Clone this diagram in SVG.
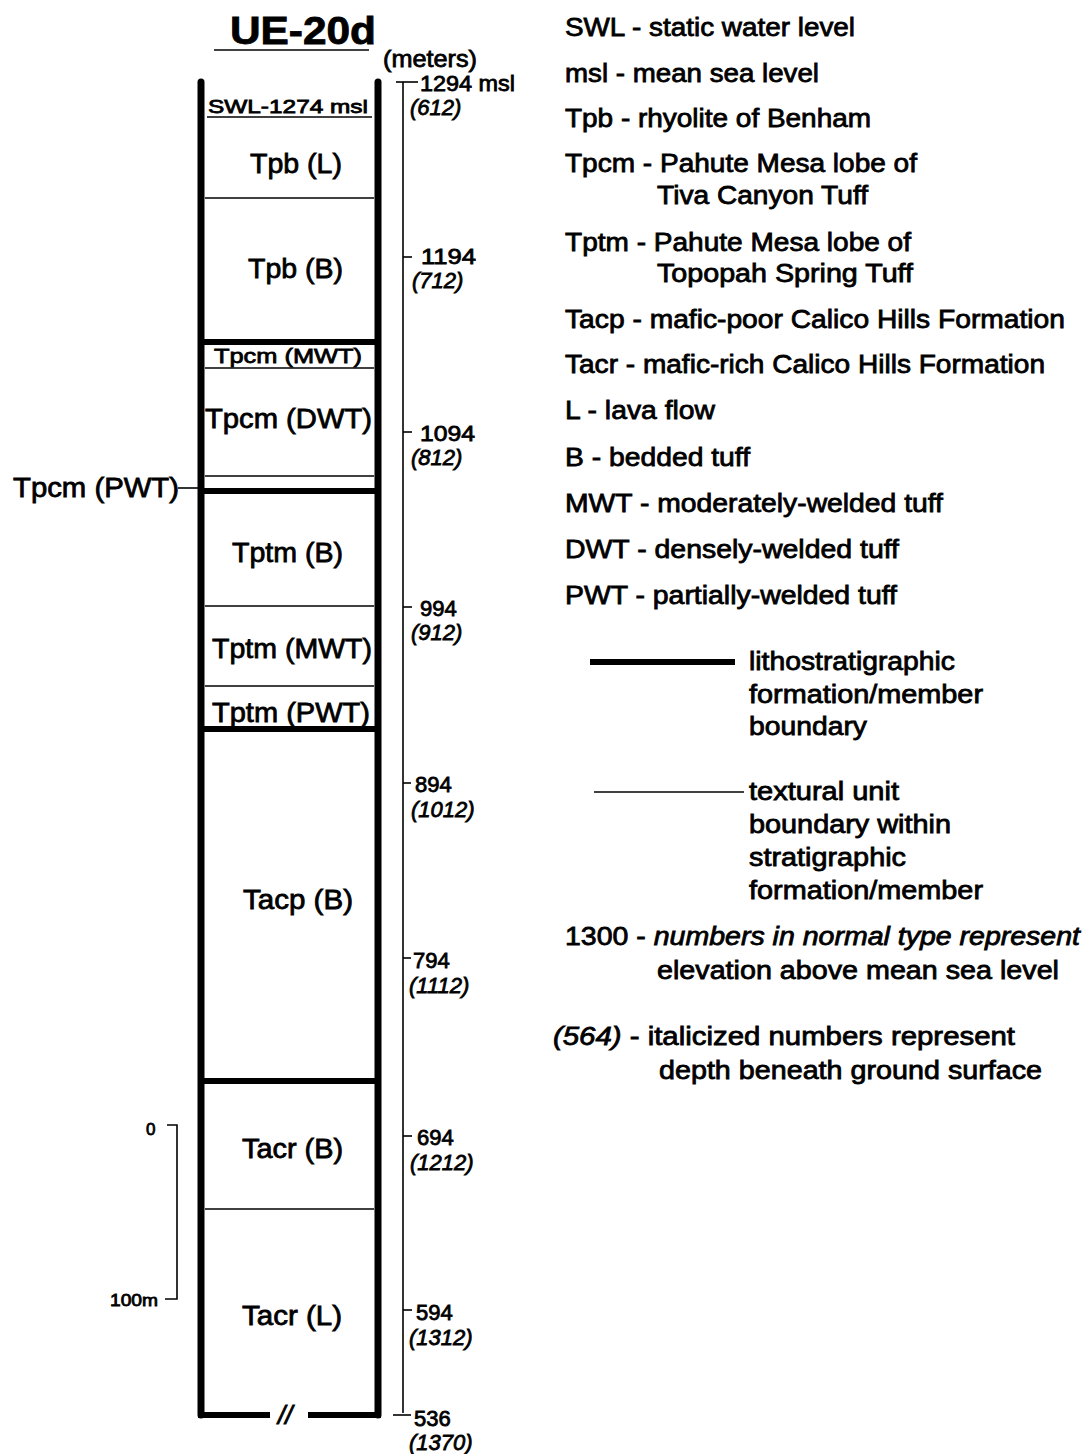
<svg xmlns="http://www.w3.org/2000/svg" width="1085" height="1454" viewBox="0 0 1085 1454">
<style>
text{font-family:"Liberation Sans",Arial,sans-serif;fill:#000;stroke:#000;stroke-width:0.8}
.lg{font-size:26px}
.lb{font-size:28px}
.sc{font-size:22px}
.it{font-style:italic}
.thick{stroke:#000;stroke-width:6;fill:none}
.wall{stroke:#000;stroke-width:7;fill:none;stroke-linecap:round}
.thin{stroke:#000;stroke-width:1.6;fill:none}
.ax{stroke:#000;stroke-width:1.6;fill:none}
</style>
<rect width="1085" height="1454" fill="#fff"/>

<g id="title">
<text x="230" y="44" font-size="38" font-weight="bold" stroke-width="0.3" textLength="146" lengthAdjust="spacingAndGlyphs">UE-20d</text>
<line x1="214" y1="50" x2="369" y2="50" class="thin"/>
</g>

<g id="column">
<line x1="201" y1="82" x2="201" y2="1415" class="wall"/>
<line x1="378" y1="82" x2="378" y2="1415" class="wall"/>
<line x1="198" y1="1415" x2="270" y2="1415" class="thick"/>
<line x1="308" y1="1415" x2="381" y2="1415" class="thick"/>
<text x="278" y="1424" font-size="26" class="it">//</text>
</g>

<g id="boundaries">
<line x1="205" y1="198" x2="374" y2="198" class="thin"/>
<line x1="201" y1="342" x2="378" y2="342" class="thick"/>
<line x1="205" y1="368" x2="374" y2="368" class="thin"/>
<line x1="205" y1="476" x2="374" y2="476" class="thin"/>
<line x1="201" y1="491" x2="378" y2="491" class="thick"/>
<line x1="205" y1="606" x2="374" y2="606" class="thin"/>
<line x1="205" y1="686" x2="374" y2="686" class="thin"/>
<line x1="201" y1="729" x2="378" y2="729" class="thick"/>
<line x1="201" y1="1081" x2="378" y2="1081" class="thick"/>
<line x1="205" y1="1209" x2="374" y2="1209" class="thin"/>
</g>

<g id="unit-swl">
<text x="208" y="113" font-size="19" stroke-width="0.5" textLength="160" lengthAdjust="spacingAndGlyphs">SWL-1274 msl</text>
<line x1="207" y1="117" x2="372" y2="117" class="thin" stroke-width="1.2"/>
</g>
<g id="unit-tpb-l"><text class="lb" x="250" y="173" textLength="92" lengthAdjust="spacingAndGlyphs">Tpb (L)</text></g>
<g id="unit-tpb-b"><text class="lb" x="248" y="278" textLength="95" lengthAdjust="spacingAndGlyphs">Tpb (B)</text></g>
<g id="unit-tpcm-mwt"><text x="214" y="363" font-size="21" stroke-width="0.5" textLength="148" lengthAdjust="spacingAndGlyphs">Tpcm (MWT)</text></g>
<g id="unit-tpcm-dwt"><text class="lb" x="205" y="428" textLength="167" lengthAdjust="spacingAndGlyphs">Tpcm (DWT)</text></g>
<g id="unit-tpcm-pwt"><text class="lb" x="13" y="497" textLength="166" lengthAdjust="spacingAndGlyphs">Tpcm (PWT)</text></g>
<g id="unit-tptm-b"><text class="lb" x="232" y="562" textLength="111" lengthAdjust="spacingAndGlyphs">Tptm (B)</text></g>
<g id="unit-tptm-mwt"><text class="lb" x="212" y="658" textLength="160" lengthAdjust="spacingAndGlyphs">Tptm (MWT)</text></g>
<g id="unit-tptm-pwt"><text class="lb" x="212" y="722" textLength="158" lengthAdjust="spacingAndGlyphs">Tptm (PWT)</text></g>
<g id="unit-tacp-b"><text class="lb" x="243" y="909" textLength="110" lengthAdjust="spacingAndGlyphs">Tacp (B)</text></g>
<g id="unit-tacr-b"><text class="lb" x="242" y="1158" textLength="101" lengthAdjust="spacingAndGlyphs">Tacr (B)</text></g>
<g id="unit-tacr-l"><text class="lb" x="242" y="1325" textLength="100" lengthAdjust="spacingAndGlyphs">Tacr (L)</text></g>

<g id="connectors">
<line x1="178" y1="488" x2="198" y2="488" class="thin"/>
</g>

<g id="scale">
<text x="383" y="67" font-size="24" textLength="94" lengthAdjust="spacingAndGlyphs">(meters)</text>
<line x1="403" y1="82" x2="403" y2="1413" class="ax"/>
<line x1="396" y1="82" x2="418" y2="82" class="ax"/>
<line x1="403" y1="257" x2="412" y2="257" class="ax"/>
<line x1="403" y1="432" x2="412" y2="432" class="ax"/>
<line x1="403" y1="607" x2="412" y2="607" class="ax"/>
<line x1="403" y1="783" x2="411" y2="783" class="ax"/>
<line x1="403" y1="958" x2="411" y2="958" class="ax"/>
<line x1="403" y1="1136" x2="412" y2="1136" class="ax"/>
<line x1="403" y1="1310" x2="412" y2="1310" class="ax"/>
<line x1="393" y1="1415" x2="411" y2="1415" class="ax"/>
<text class="sc" x="420" y="91" textLength="95" lengthAdjust="spacingAndGlyphs">1294 msl</text>
<text class="sc it" x="410" y="115">(612)</text>
<text class="sc" x="421" y="264" textLength="55" lengthAdjust="spacingAndGlyphs">1194</text>
<text class="sc it" x="412" y="288">(712)</text>
<text class="sc" x="420" y="441" textLength="55" lengthAdjust="spacingAndGlyphs">1094</text>
<text class="sc it" x="411" y="465">(812)</text>
<text class="sc" x="420" y="616">994</text>
<text class="sc it" x="411" y="640">(912)</text>
<text class="sc" x="415" y="792">894</text>
<text class="sc it" x="411" y="817">(1012)</text>
<text class="sc" x="413" y="968">794</text>
<text class="sc it" x="409" y="993">(1112)</text>
<text class="sc" x="417" y="1145">694</text>
<text class="sc it" x="410" y="1170">(1212)</text>
<text class="sc" x="416" y="1320">594</text>
<text class="sc it" x="409" y="1345">(1312)</text>
<text class="sc" x="414" y="1426">536</text>
<text class="sc it" x="409" y="1450">(1370)</text>
</g>

<g id="scale-bar">
<polyline points="167,1125 177,1125 177,1299 165,1299" class="thin"/>
<text x="146" y="1135" font-size="17" stroke-width="0.4">0</text>
<text x="110" y="1306" font-size="17" stroke-width="0.4" textLength="48" lengthAdjust="spacingAndGlyphs">100m</text>
</g>

<g id="legend">
<text class="lg" x="565" y="36" textLength="290" lengthAdjust="spacingAndGlyphs">SWL - static water level</text>
<text class="lg" x="565" y="82" textLength="254" lengthAdjust="spacingAndGlyphs">msl - mean sea level</text>
<text class="lg" x="565" y="127" textLength="306" lengthAdjust="spacingAndGlyphs">Tpb - rhyolite of Benham</text>
<text class="lg" x="565" y="172" textLength="352" lengthAdjust="spacingAndGlyphs">Tpcm - Pahute Mesa lobe of</text>
<text class="lg" x="657" y="204" textLength="211" lengthAdjust="spacingAndGlyphs">Tiva Canyon Tuff</text>
<text class="lg" x="565" y="251" textLength="346" lengthAdjust="spacingAndGlyphs">Tptm - Pahute Mesa lobe of</text>
<text class="lg" x="657" y="282" textLength="256" lengthAdjust="spacingAndGlyphs">Topopah Spring Tuff</text>
<text class="lg" x="565" y="328" textLength="500" lengthAdjust="spacingAndGlyphs">Tacp - mafic-poor Calico Hills Formation</text>
<text class="lg" x="565" y="373" textLength="480" lengthAdjust="spacingAndGlyphs">Tacr - mafic-rich Calico Hills Formation</text>
<text class="lg" x="565" y="419" textLength="150" lengthAdjust="spacingAndGlyphs">L - lava flow</text>
<text class="lg" x="565" y="466" textLength="185" lengthAdjust="spacingAndGlyphs">B - bedded tuff</text>
<text class="lg" x="565" y="512" textLength="378" lengthAdjust="spacingAndGlyphs">MWT - moderately-welded tuff</text>
<text class="lg" x="565" y="558" textLength="334" lengthAdjust="spacingAndGlyphs">DWT - densely-welded tuff</text>
<text class="lg" x="565" y="604" textLength="332" lengthAdjust="spacingAndGlyphs">PWT - partially-welded tuff</text>

<line x1="590" y1="662" x2="735" y2="662" stroke="#000" stroke-width="6"/>
<text class="lg" x="749" y="670" textLength="206" lengthAdjust="spacingAndGlyphs">lithostratigraphic</text>
<text class="lg" x="749" y="703" textLength="234" lengthAdjust="spacingAndGlyphs">formation/member</text>
<text class="lg" x="749" y="735" textLength="118" lengthAdjust="spacingAndGlyphs">boundary</text>

<line x1="594" y1="792" x2="744" y2="792" class="thin"/>
<text class="lg" x="749" y="800" textLength="150" lengthAdjust="spacingAndGlyphs">textural unit</text>
<text class="lg" x="749" y="833" textLength="202" lengthAdjust="spacingAndGlyphs">boundary within</text>
<text class="lg" x="749" y="866" textLength="157" lengthAdjust="spacingAndGlyphs">stratigraphic</text>
<text class="lg" x="749" y="899" textLength="234" lengthAdjust="spacingAndGlyphs">formation/member</text>

<text class="lg" x="565" y="945" textLength="515" lengthAdjust="spacingAndGlyphs">1300 - <tspan class="it">numbers in normal type represent</tspan></text>
<text class="lg" x="657" y="979" textLength="402" lengthAdjust="spacingAndGlyphs">elevation above mean sea level</text>
<text class="lg" x="553" y="1045" textLength="462" lengthAdjust="spacingAndGlyphs"><tspan class="it">(564)</tspan> - italicized numbers represent</text>
<text class="lg" x="659" y="1079" textLength="383" lengthAdjust="spacingAndGlyphs">depth beneath ground surface</text>
</g>
</svg>
